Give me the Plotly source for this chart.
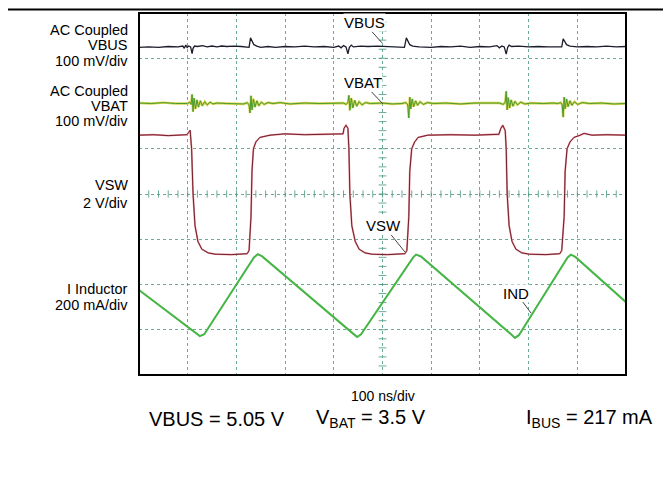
import plotly.graph_objects as go

# ---------------- data (time in ns, values in screen divisions 0..8) ----------------
vbus_t = [0, 20, 40, 60, 80, 90, 93, 96, 99, 102, 106, 109, 111, 114, 120, 130, 140, 150, 160, 170,
          180, 195, 210, 222, 226, 229, 232, 236, 242, 250, 265, 280, 300, 320, 340, 360, 380, 400,
          410, 415, 420, 425, 429, 432, 436, 440, 455, 470, 490, 510, 530, 545, 549, 552, 556, 562,
          575, 600, 620, 640, 660, 680, 700, 720, 735, 740, 745, 750, 754, 757, 760, 765, 780, 800,
          820, 840, 860, 868, 871, 874, 878, 885, 900, 920, 940, 960, 980, 1000]
vbus_v = [7.24, 7.25, 7.24, 7.26, 7.25, 7.27, 7.22, 7.29, 7.24, 7.27, 7.25, 7.10, 7.22, 7.27, 7.26,
          7.28, 7.25, 7.27, 7.25, 7.27, 7.26, 7.27, 7.26, 7.25, 7.24, 7.45, 7.38, 7.30, 7.27, 7.24,
          7.26, 7.24, 7.26, 7.25, 7.27, 7.25, 7.26, 7.24, 7.27, 7.23, 7.28, 7.25, 7.10, 7.24, 7.29,
          7.25, 7.27, 7.26, 7.27, 7.26, 7.25, 7.24, 7.45, 7.38, 7.30, 7.27, 7.25, 7.24, 7.26, 7.25,
          7.27, 7.24, 7.26, 7.25, 7.28, 7.23, 7.27, 7.25, 7.09, 7.24, 7.29, 7.26, 7.27, 7.25, 7.26,
          7.25, 7.24, 7.25, 7.43, 7.36, 7.30, 7.27, 7.25, 7.26, 7.25, 7.27, 7.25, 7.26]

vbat_t = [0, 25, 50, 75, 100, 104, 107, 109, 111, 113, 116, 119, 122, 126, 130, 135, 140, 146, 152,
          160, 180, 200, 215, 222, 226, 228, 230, 232, 235, 238, 242, 246, 251, 257, 265, 275, 290,
          310, 340, 370, 400, 420, 425, 429, 431, 433, 436, 439, 443, 447, 452, 458, 465, 475, 500,
          520, 540, 548, 552, 554, 556, 558, 561, 564, 568, 572, 577, 584, 592, 605, 630, 660, 690,
          720, 740, 748, 752, 754, 756, 758, 761, 764, 768, 772, 777, 784, 792, 805, 830, 850, 860,
          866, 869, 871, 873, 875, 878, 881, 885, 889, 894, 901, 910, 925, 950, 975, 1000]
vbat_v = [6.01, 6.00, 6.02, 6.00, 6.00, 6.03, 5.98, 6.20, 5.82, 6.12, 5.88, 6.08, 5.92, 6.06, 5.95,
          6.04, 5.97, 6.03, 5.99, 6.01, 6.00, 6.00, 5.99, 6.02, 5.97, 5.79, 6.17, 5.86, 6.10, 5.92,
          6.06, 5.95, 6.03, 5.98, 6.02, 6.00, 6.02, 5.99, 6.01, 6.00, 6.01, 6.01, 5.98, 6.02, 6.18,
          5.85, 6.12, 5.90, 6.07, 5.94, 6.04, 5.97, 6.02, 6.00, 6.01, 5.99, 6.00, 6.02, 5.97, 5.68,
          6.14, 5.88, 6.10, 5.93, 6.06, 5.96, 6.04, 5.98, 6.02, 6.00, 6.01, 5.99, 6.01, 6.00, 6.01,
          5.98, 6.03, 6.27, 5.86, 6.13, 5.90, 6.08, 5.94, 6.05, 5.97, 6.03, 5.99, 6.01, 6.00, 6.01,
          6.00, 6.02, 5.97, 5.70, 6.14, 5.88, 6.10, 5.93, 6.06, 5.96, 6.04, 5.98, 6.02, 6.00, 6.01,
          5.99, 6.00]

vsw_t = [0, 30, 60, 90, 98, 102, 105, 108, 111, 115, 121, 129, 142, 156, 190, 222, 226, 230, 232,
         235, 240, 248, 269, 300, 340, 380, 419, 421, 425, 429, 431, 433, 437, 444, 452, 464, 478,
         510, 546, 550, 554, 556, 560, 566, 573, 593, 640, 690, 739, 743, 747, 752, 754, 756, 760,
         766, 774, 786, 801, 835, 864, 868, 873, 875, 879, 885, 893, 906, 914, 930, 960, 1000]
vsw_v = [5.30, 5.31, 5.29, 5.30, 5.31, 5.36, 5.41, 5.00, 4.00, 3.30, 2.95, 2.78, 2.70, 2.67, 2.66,
         2.68, 2.75, 3.50, 4.50, 5.00, 5.15, 5.25, 5.30, 5.33, 5.31, 5.32, 5.33, 5.45, 5.52, 5.45,
         5.00, 4.00, 3.30, 2.95, 2.78, 2.70, 2.67, 2.66, 2.68, 2.75, 3.50, 4.50, 5.00, 5.15, 5.25,
         5.30, 5.31, 5.30, 5.32, 5.45, 5.52, 5.40, 5.00, 4.00, 3.30, 2.95, 2.78, 2.70, 2.67, 2.66,
         2.68, 2.75, 3.50, 4.50, 5.00, 5.15, 5.25, 5.30, 5.34, 5.30, 5.31, 5.30]

ind_t = [0, 117, 125, 134, 236, 244, 253, 439, 448, 456, 563, 569, 579, 764, 772, 780, 880, 887, 896, 1000]
ind_v = [1.88, 0.92, 0.86, 0.90, 2.60, 2.67, 2.62, 0.92, 0.84, 0.90, 2.60, 2.66, 2.62, 0.90, 0.82,
         0.88, 2.60, 2.66, 2.61, 1.61]

left_labels = [("AC Coupled", 30), ("VBUS", 45), ("100 mV/div", 61),
               ("AC Coupled", 91), ("VBAT", 106), ("100 mV/div", 121),
               ("VSW", 185), ("2 V/div", 203),
               ("I Inductor", 289), ("200 mA/div", 305)]

# ---------------- layout geometry (page pixels; page body has an 8px margin) ----------------
W, H = 671, 487
OFF = 8
L, R, T, B = 139, 626, 13, 375


def pxx(x):
    return (x - L) / (R - L)


def pxy(y):
    return (B - y) / (B - T)


FONT = "Arial, Liberation Sans, sans-serif"
GRID = "rgba(70,150,125,0.8)"

fig = go.Figure()
fig.add_trace(go.Scatter(x=vbus_t, y=vbus_v, mode="lines", line=dict(color="#1c1c2c", width=1.3),
                         hoverinfo="skip"))
fig.add_trace(go.Scatter(x=vbat_t, y=vbat_v, mode="lines", line=dict(color="#d8d44a", width=2.4),
                         hoverinfo="skip"))
fig.add_trace(go.Scatter(x=vbat_t, y=vbat_v, mode="lines", line=dict(color="#4b9a35", width=1.0),
                         hoverinfo="skip"))
fig.add_trace(go.Scatter(x=vsw_t, y=vsw_v, mode="lines", line=dict(color="#e6909a", width=1.8),
                         hoverinfo="skip"))
fig.add_trace(go.Scatter(x=vsw_t, y=vsw_v, mode="lines", line=dict(color="#74202a", width=1.0),
                         hoverinfo="skip"))
fig.add_trace(go.Scatter(x=ind_t, y=ind_v, mode="lines", line=dict(color="#45b545", width=2.0),
                         hoverinfo="skip"))

shapes = []
# centre cross ticks
for i in range(51):
    t = i * 20
    shapes.append(dict(type="line", xref="x", yref="y", x0=t, x1=t, y0=3.92, y1=4.08,
                       line=dict(color=GRID, width=1), layer="below"))
for i in range(41):
    v = i * 0.2
    shapes.append(dict(type="line", xref="x", yref="y", x0=492, x1=508, y0=v, y1=v,
                       line=dict(color=GRID, width=1), layer="below"))
# plot frame
shapes.append(dict(type="rect", xref="paper", yref="paper", x0=0, x1=1, y0=0, y1=1,
                   line=dict(color="black", width=2)))
# top rule (as high as the page margin allows)
shapes.append(dict(type="line", xref="paper", yref="paper", x0=pxx(0), x1=pxx(W), y0=pxy(9.5), y1=pxy(9.5),
                   line=dict(color="black", width=2)))

ann = []
for txt, y in left_labels:
    ann.append(dict(text=txt, xref="paper", yref="paper", x=pxx(130), y=pxy(y), xanchor="right",
                    yanchor="middle", showarrow=False, font=dict(size=14.5, color="black", family=FONT)))

# trace labels with leader lines
for txt, tx, ty, ax, ay in [("VBUS", 499, 7.34, -18, -20), ("VBAT", 501, 5.99, -20, -21),
                            ("VSW", 546, 2.72, -21, -26), ("IND", 805, 1.37, -15, -20)]:
    ann.append(dict(text=txt, x=tx, y=ty, xref="x", yref="y", ax=ax, ay=ay, showarrow=True,
                    arrowhead=0, arrowwidth=1, arrowcolor="#444444", bgcolor="white", borderpad=0,
                    font=dict(size=15, color="black", family=FONT)))

ann.append(dict(text="100 ns/div", xref="paper", yref="paper", x=pxx(383), y=pxy(396),
                xanchor="center", yanchor="middle",
                showarrow=False, font=dict(size=14, color="black", family=FONT)))
for txt, cx in [("VBUS = 5.05 V", 217), ("V<sub>BAT</sub> = 3.5 V", 371),
                ("I<sub>BUS</sub> = 217 mA", 589)]:
    ann.append(dict(text=txt, xref="paper", yref="paper", x=pxx(cx), y=pxy(419),
                    xanchor="center", yanchor="middle", showarrow=False,
                    font=dict(size=20, color="black", family=FONT)))

fig.update_layout(
    width=W, height=H,
    margin=dict(l=L - OFF, r=W - (R - OFF), t=T - OFF, b=H - (B - OFF), pad=0),
    paper_bgcolor="white", plot_bgcolor="white",
    showlegend=False,
    shapes=shapes, annotations=ann,
    xaxis=dict(range=[0, 1000], dtick=100, showgrid=True, gridcolor=GRID, griddash="dot", gridwidth=1,
               showticklabels=False, zeroline=False, ticks="", fixedrange=True),
    yaxis=dict(range=[0, 8], dtick=1, showgrid=True, gridcolor=GRID, griddash="dot", gridwidth=1,
               showticklabels=False, zeroline=False, ticks="", fixedrange=True),
)

fig.write_html("out.html")
